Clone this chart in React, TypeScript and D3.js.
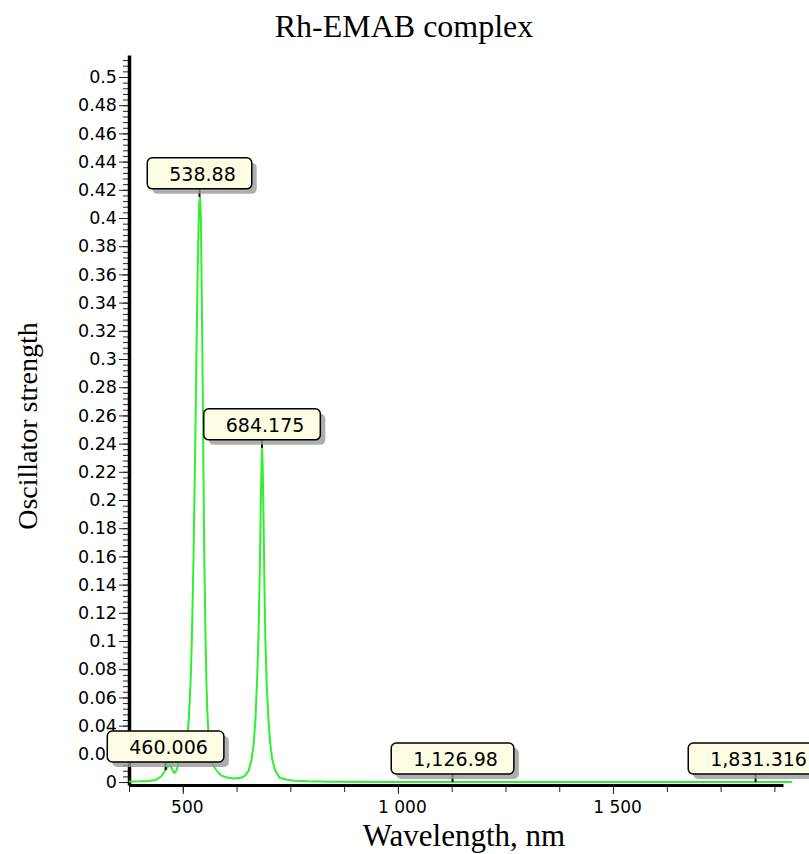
import React, { useRef, useEffect } from 'react';
import * as d3 from 'd3';

// spectrum (wavelength nm, oscillator strength)
const wavelengths = [375, 400, 420, 437, 450, 460, 466, 471, 475, 480, 485, 490, 496, 500, 505, 510, 514, 518, 521, 525, 529, 532, 535, 538, 540, 542, 544, 546, 548, 550, 553, 555, 557, 560, 564, 570, 580, 590, 605, 620, 635, 645, 653, 660, 665, 669, 673, 676, 679, 681, 683, 684.5, 686, 688, 690, 692, 695, 699, 703, 708, 715, 725, 740, 760, 790, 850, 1000, 1916];
const strengths = [0.0003, 0.0005, 0.0008, 0.0014, 0.004, 0.0085, 0.011, 0.012, 0.009, 0.0065, 0.008, 0.013, 0.017, 0.017, 0.02, 0.03, 0.045, 0.07, 0.1, 0.16, 0.24, 0.31, 0.37, 0.41, 0.415, 0.4, 0.35, 0.29, 0.22, 0.16, 0.1, 0.07, 0.05, 0.032, 0.02, 0.012, 0.0075, 0.0045, 0.003, 0.0026, 0.003, 0.0045, 0.008, 0.016, 0.028, 0.045, 0.075, 0.105, 0.15, 0.19, 0.225, 0.237, 0.22, 0.18, 0.135, 0.1, 0.07, 0.045, 0.028, 0.016, 0.008, 0.003, 0.0018, 0.001, 0.0005, 0.0002, 0.0001, 0];

const markerWl = [538.88, 684.175, 460.006, 1126.98, 1831.316];
const markerVal = [0.415, 0.237, 0.0085, 0, 0];
const markerText = ['538.88', '684.175', '460.006', '1,126.98', '1,831.316'];

const xMajor = [500, 1000, 1500];
const xMajorLabels = ['500', '1 000', '1 500'];
const xMinor = [375, 500, 625, 750, 875, 1000, 1125, 1250, 1375, 1500, 1625, 1750, 1875];
const yMajor = d3.range(0, 26).map(i => +(i * 0.02).toFixed(2));
const yMinor = d3.range(0, 129).map(i => +(i * 0.004).toFixed(3));

const W = 809, H = 854;

const App = () => {
  const svgRef = useRef(null);

  useEffect(() => {
    const svg = d3.select(svgRef.current);
    svg.selectAll('*').remove();

    const x = d3.scaleLinear().domain([375, 1895]).range([129, 783]);
    const y = d3.scaleLinear().domain([-0.0021, 0.5156]).range([785, 55]);

    const sans = 'DejaVu Sans, Verdana, sans-serif';
    const serif = 'Liberation Serif, Times New Roman, serif';

    // title
    svg.append('text')
      .attr('x', 404).attr('y', 37)
      .attr('text-anchor', 'middle')
      .attr('font-family', serif).attr('font-size', 32)
      .text('Rh-EMAB complex');

    // y axis minor + major
    svg.append('g').attr('transform', 'translate(129,0)')
      .call(d3.axisLeft(y).tickValues(yMinor).tickSize(6).tickFormat(() => ''))
      .call(g => g.select('.domain').remove())
      .call(g => g.selectAll('line').attr('stroke', '#222').attr('stroke-width', 1));

    const yAxis = svg.append('g').attr('transform', 'translate(129,0)')
      .call(d3.axisLeft(y).tickValues(yMajor).tickSize(10).tickSizeOuter(0).tickPadding(2)
        .tickFormat(d => String(+(+d).toFixed(2))));
    yAxis.select('.domain').attr('stroke', '#000').attr('stroke-width', 3.5);
    yAxis.selectAll('line').attr('stroke', '#222').attr('stroke-width', 1);
    yAxis.selectAll('text').attr('font-family', sans).attr('font-size', 17.5).attr('fill', '#000');

    // x axis minor + major
    svg.append('g').attr('transform', 'translate(0,785)')
      .call(d3.axisBottom(x).tickValues(xMinor).tickSize(7).tickFormat(() => ''))
      .call(g => g.select('.domain').remove())
      .call(g => g.selectAll('line').attr('stroke', '#222').attr('stroke-width', 1));

    const xAxis = svg.append('g').attr('transform', 'translate(0,785)')
      .call(d3.axisBottom(x).tickValues(xMajor).tickSize(9).tickSizeOuter(0).tickPadding(7)
        .tickFormat((d, i) => xMajorLabels[i]));
    xAxis.select('.domain').attr('stroke', '#000').attr('stroke-width', 3);
    xAxis.selectAll('line').attr('stroke', '#222').attr('stroke-width', 1);
    xAxis.selectAll('text').attr('font-family', sans).attr('font-size', 17).attr('fill', '#000').attr('dx', 4);

    // axis titles
    svg.append('text')
      .attr('x', 464).attr('y', 846)
      .attr('text-anchor', 'middle')
      .attr('font-family', serif).attr('font-size', 31)
      .text('Wavelength, nm');

    svg.append('text')
      .attr('transform', 'translate(37,426) rotate(-90)')
      .attr('text-anchor', 'middle')
      .attr('font-family', serif).attr('font-size', 28)
      .text('Oscillator strength');

    // spectrum
    const line = d3.line()
      .x(d => x(d[0]))
      .y(d => y(d[1]));
    const pts = wavelengths.map((w, i) => [w, strengths[i]]);
    svg.append('path')
      .attr('d', line(pts))
      .attr('fill', 'none')
      .attr('stroke', '#2ef02e')
      .attr('stroke-width', 2);

    // peak labels
    const boxH = 31;
    markerWl.forEach((w, i) => {
      const cx = x(w);
      const py = y(markerVal[i]);
      const bottom = py - 8;
      const g = svg.append('g');
      const t = g.append('text')
        .attr('font-family', sans).attr('font-size', 19)
        .attr('text-anchor', 'middle')
        .text(markerText[i]);
      const tw = t.node().getComputedTextLength();
      const bw = tw + 38;
      t.remove();

      g.append('line')
        .attr('x1', cx).attr('x2', cx)
        .attr('y1', bottom).attr('y2', py)
        .attr('stroke', '#000').attr('stroke-width', 2);
      g.append('rect')
        .attr('x', cx - bw / 2 + 5).attr('y', bottom - boxH + 5)
        .attr('width', bw).attr('height', boxH)
        .attr('rx', 5)
        .attr('fill', '#9a9a9a').attr('opacity', 0.8);
      g.append('rect')
        .attr('x', cx - bw / 2).attr('y', bottom - boxH)
        .attr('width', bw).attr('height', boxH)
        .attr('rx', 5)
        .attr('fill', '#fdfde3').attr('stroke', '#000').attr('stroke-width', 1.5);
      g.append('text')
        .attr('x', cx + 3).attr('y', bottom - 8)
        .attr('font-family', sans).attr('font-size', 19)
        .attr('text-anchor', 'middle')
        .attr('fill', '#000')
        .text(markerText[i]);
    });
  }, []);

  return (
    <svg ref={svgRef} width={W} height={H}
      style={{ position: 'absolute', left: 0, top: 0, background: '#fff' }}></svg>
  );
};

export default App;
